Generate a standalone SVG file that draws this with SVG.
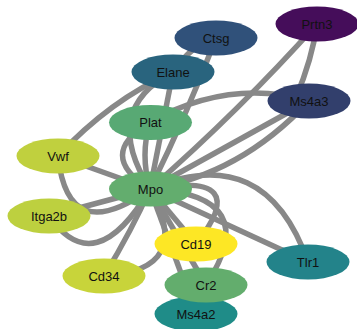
<svg xmlns="http://www.w3.org/2000/svg" width="357" height="329" viewBox="0 0 357 329">
<style>
.e{fill:none;stroke:#888888;stroke-width:5.5;stroke-linecap:butt}
.n ellipse{stroke:none}
.n text{font-family:"Liberation Sans",Arial,sans-serif;font-size:13px;fill:#111;text-anchor:middle;dominant-baseline:central}
</style>
<rect width="357" height="329" fill="#ffffff"/>
<g id="edges">
<path class="e" d="M216,38 Q192,44 173,72"/>
<path class="e" d="M216,38 Q188,112 150,189"/>
<path class="e" d="M173,72 Q110,100 58,156"/>
<path class="e" d="M173,72 Q100,110 150,189"/>
<path class="e" d="M173,72 L150,189"/>
<path class="e" d="M317,24 Q240,110 150,189"/>
<path class="e" d="M317,24 Q312,60 296,97"/>
<path class="e" d="M309,101 L150,189"/>
<path class="e" d="M309,101 Q240,175 150,189"/>
<path class="e" d="M150,122 Q230,78 309,101"/>
<path class="e" d="M150,122 Q95,155 150,189"/>
<path class="e" d="M150,122 Q140,155 150,189"/>
<path class="e" d="M58,156 L150,189"/>
<path class="e" d="M58,156 Q68,248 150,189"/>
<path class="e" d="M49,216 L150,189"/>
<path class="e" d="M49,216 Q95,282 150,189"/>
<path class="e" d="M104,276 Q132,230 150,189"/>
<path class="e" d="M104,276 Q195,270 150,189"/>
<path class="e" d="M150,189 L196,244"/>
<path class="e" d="M150,189 Q255,170 196,244"/>
<path class="e" d="M150,189 L206,285"/>
<path class="e" d="M150,189 Q265,195 206,285"/>
<path class="e" d="M150,189 L196,314"/>
<path class="e" d="M150,189 L308,262"/>
<path class="e" d="M150,189 Q265,140 308,262"/>
</g>
<g id="node-Ctsg" class="n"><ellipse cx="216" cy="38" rx="41.5" ry="17.5" fill="#30517a"/><text x="216" y="38">Ctsg</text></g>
<g id="node-Prtn3" class="n"><ellipse cx="317" cy="24" rx="41.5" ry="17.5" fill="#450d5a"/><text x="317" y="24">Prtn3</text></g>
<g id="node-Elane" class="n"><ellipse cx="173" cy="72" rx="41.5" ry="17.5" fill="#29647e"/><text x="173" y="72">Elane</text></g>
<g id="node-Ms4a3" class="n"><ellipse cx="309" cy="101" rx="41.5" ry="17.5" fill="#323f6c"/><text x="309" y="101">Ms4a3</text></g>
<g id="node-Plat" class="n"><ellipse cx="150.5" cy="122.5" rx="41.5" ry="17.5" fill="#58a974"/><text x="150.5" y="122.5">Plat</text></g>
<g id="node-Vwf" class="n"><ellipse cx="58" cy="156" rx="41.5" ry="17.5" fill="#c0d03e"/><text x="58" y="156">Vwf</text></g>
<g id="node-Mpo" class="n"><ellipse cx="150.5" cy="189" rx="41.5" ry="17.5" fill="#63ad6e"/><text x="150.5" y="189">Mpo</text></g>
<g id="node-Itga2b" class="n"><ellipse cx="49" cy="216" rx="41.5" ry="17.5" fill="#bdd03f"/><text x="49" y="216">Itga2b</text></g>
<g id="node-Cd34" class="n"><ellipse cx="104" cy="276" rx="41.5" ry="17.5" fill="#c8d43a"/><text x="104" y="276">Cd34</text></g>
<g id="node-Cd19" class="n"><ellipse cx="196" cy="244" rx="41.5" ry="17.5" fill="#fde725"/><text x="196" y="244">Cd19</text></g>
<g id="node-Ms4a2" class="n"><ellipse cx="196" cy="314" rx="41.5" ry="17.5" fill="#1f8c88"/><text x="196" y="314">Ms4a2</text></g>
<g id="node-Cr2" class="n"><ellipse cx="206" cy="285" rx="41.5" ry="17.5" fill="#63ad6d"/><text x="206" y="285">Cr2</text></g>
<g id="node-Tlr1" class="n"><ellipse cx="308" cy="262" rx="41.5" ry="17.5" fill="#23838a"/><text x="308" y="262">Tlr1</text></g>
</svg>
